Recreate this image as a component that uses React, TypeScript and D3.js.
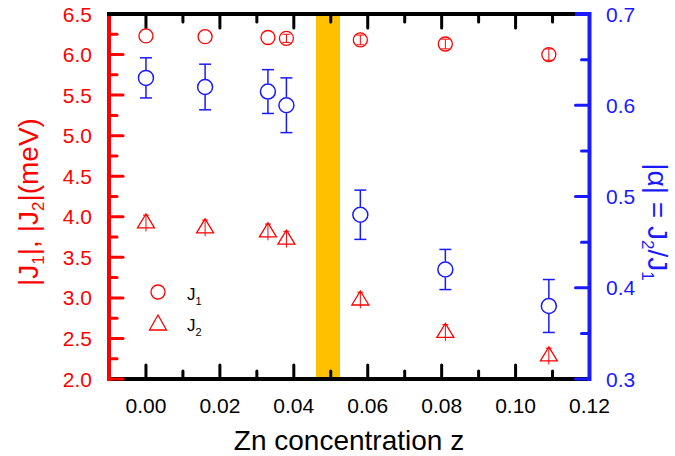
import * as d3 from "d3";

// Zn-doped samples: exchange constants J1, J2 (left axis) and ratio alpha (right axis)
const zValues = [0, 0.016, 0.033, 0.038, 0.058, 0.081, 0.109];
const j1Values = [6.23, 6.22, 6.21, 6.2, 6.18, 6.13, 6.0];
const j1Errors = [0, 0, 0, 0.05, 0.06, 0.06, 0.07];
const j2Values = [3.92, 3.86, 3.81, 3.72, 2.97, 2.57, 2.28];
const j2Errors = [0.1, 0.1, 0.1, 0.1, 0.1, 0.1, 0.1];
const alphaValues = [0.63, 0.62, 0.615, 0.6, 0.48, 0.42, 0.38];
const alphaErrors = [0.022, 0.025, 0.024, 0.03, 0.027, 0.022, 0.029];
const bandRange = [0.046, 0.0525];

const xMajor = [0, 0.02, 0.04, 0.06, 0.08, 0.1, 0.12];
const xMinor = [-0.01, 0.01, 0.03, 0.05, 0.07, 0.09, 0.11];
const leftMajor = [2.0, 2.5, 3.0, 3.5, 4.0, 4.5, 5.0, 5.5, 6.0, 6.5];
const leftMinor = [2.25, 2.75, 3.25, 3.75, 4.25, 4.75, 5.25, 5.75, 6.25];
const rightMajor = [0.3, 0.4, 0.5, 0.6, 0.7];
const rightMinor = [0.35, 0.45, 0.55, 0.65];

const RED = "#ff0000";
const BLUE = "#1a1aff";
const FONT = "'Liberation Sans', Arial, sans-serif";

const W = 675;
const H = 456;
const left = 109, right = 589.5, top = 14, bottom = 379;
const majorLen = 14, minorLen = 8;

const x = d3.scaleLinear().domain([-0.01, 0.12]).range([left, right]);
const yL = d3.scaleLinear().domain([2.0, 6.5]).range([bottom, top]);
const yR = d3.scaleLinear().domain([0.3, 0.7]).range([bottom, top]);

// triangle with its centroid at (cx, cy)
const tri = (cx: number, cy: number, w = 17, h = 14) => {
  const p = d3.path();
  p.moveTo(cx, cy - (2 * h) / 3);
  p.lineTo(cx + w / 2, cy + h / 3);
  p.lineTo(cx - w / 2, cy + h / 3);
  p.closePath();
  return p.toString();
};

export default function App() {
  const tickStyle = { strokeWidth: 3, strokeLinecap: "round" as const };
  return (
    <svg width={W} height={H} style={{ position: "absolute", left: 0, top: 0, background: "#fff" }} fontFamily={FONT}>
      {/* transition band */}
      <rect x={x(bandRange[0])} y={top} width={x(bandRange[1]) - x(bandRange[0])} height={bottom - top} fill="#ffc000" />

      {/* bottom axis */}
      <line x1={left - 2} x2={right} y1={bottom} y2={bottom} stroke="#000" strokeWidth={4} />
      {xMajor.map((t) => (
        <g key={"xb" + t}>
          <line x1={x(t)} x2={x(t)} y1={bottom} y2={bottom - majorLen} stroke="#000" {...tickStyle} />
          <line x1={x(t)} x2={x(t)} y1={top} y2={top + majorLen} stroke="#000" {...tickStyle} />
          <text x={x(t)} y={413} textAnchor="middle" fontSize={21} fill="#000">{t.toFixed(2)}</text>
        </g>
      ))}
      {xMinor.map((t) => (
        <g key={"xm" + t}>
          <line x1={x(t)} x2={x(t)} y1={bottom} y2={bottom - minorLen} stroke="#000" {...tickStyle} />
          <line x1={x(t)} x2={x(t)} y1={top} y2={top + minorLen} stroke="#000" {...tickStyle} />
        </g>
      ))}

      {/* right axis */}
      <line x1={right} x2={right} y1={top - 2} y2={bottom + 2} stroke={BLUE} strokeWidth={4} />
      {rightMajor.map((t) => (
        <g key={"rm" + t}>
          <line x1={right} x2={right - majorLen} y1={yR(t)} y2={yR(t)} stroke={BLUE} {...tickStyle} />
          <text x={606} y={yR(t)} dy="0.36em" fontSize={21} fill={BLUE}>{t.toFixed(1)}</text>
        </g>
      ))}
      {rightMinor.map((t) => (
        <line key={"rn" + t} x1={right} x2={right - minorLen} y1={yR(t)} y2={yR(t)} stroke={BLUE} {...tickStyle} />
      ))}

      {/* left axis */}
      <line x1={left} x2={left} y1={top} y2={bottom + 2} stroke={RED} strokeWidth={4} />
      {leftMajor.map((t) => (
        <g key={"lm" + t}>
          <line x1={left} x2={left + majorLen} y1={yL(t)} y2={yL(t)} stroke={RED} {...tickStyle} />
          <text x={92} y={yL(t)} dy="0.36em" textAnchor="end" fontSize={21} fill={RED}>{t.toFixed(1)}</text>
        </g>
      ))}
      {leftMinor.map((t) => (
        <line key={"ln" + t} x1={left} x2={left + minorLen} y1={yL(t)} y2={yL(t)} stroke={RED} {...tickStyle} />
      ))}

      {/* top axis line */}
      <line x1={left - 2} x2={right - majorLen} y1={top} y2={top} stroke="#000" strokeWidth={4} />
      <line x1={right - majorLen} x2={right} y1={top} y2={top} stroke={BLUE} strokeWidth={4} />

      {/* alpha with error bars */}
      {zValues.map((z, i) => {
        const cx = x(z);
        const y0 = yR(alphaValues[i] - alphaErrors[i]);
        const y1 = yR(alphaValues[i] + alphaErrors[i]);
        const cy = yR(alphaValues[i]);
        return (
          <g key={"a" + i} stroke={BLUE} strokeWidth={1.5} fill="none">
            <line x1={cx} x2={cx} y1={y1} y2={cy - 8} />
            <line x1={cx} x2={cx} y1={cy + 8} y2={y0} />
            <line x1={cx - 6} x2={cx + 6} y1={y1} y2={y1} />
            <line x1={cx - 6} x2={cx + 6} y1={y0} y2={y0} />
            <circle cx={cx} cy={cy} r={7.5} fill="#fff" />
          </g>
        );
      })}

      {/* J1 */}
      {zValues.map((z, i) => {
        const cx = x(z);
        const cy = yL(j1Values[i]);
        const e = j1Errors[i];
        return (
          <g key={"j1" + i} stroke={RED} strokeWidth={1.3} fill="none">
            <circle cx={cx} cy={cy} r={7} fill="#fff" />
            {e > 0 && (
              <>
                <line x1={cx} x2={cx} y1={yL(j1Values[i] + e)} y2={yL(j1Values[i] - e)} strokeWidth={1} />
                <line x1={cx - 4} x2={cx + 4} y1={yL(j1Values[i] + e)} y2={yL(j1Values[i] + e)} strokeWidth={1} />
                <line x1={cx - 4} x2={cx + 4} y1={yL(j1Values[i] - e)} y2={yL(j1Values[i] - e)} strokeWidth={1} />
              </>
            )}
          </g>
        );
      })}

      {/* J2 */}
      {zValues.map((z, i) => {
        const cx = x(z);
        const cy = yL(j2Values[i]);
        const yt = yL(j2Values[i] + j2Errors[i]);
        const yb = yL(j2Values[i] - j2Errors[i]);
        return (
          <g key={"j2" + i} stroke={RED} strokeWidth={1.3} fill="none">
            <path d={tri(cx, cy)} fill="#fff" />
            <line x1={cx} x2={cx} y1={yt} y2={yb} strokeWidth={1} />
            <line x1={cx - 3} x2={cx + 3} y1={yt} y2={yt} strokeWidth={1} />
          </g>
        );
      })}

      {/* legend */}
      <circle cx={158} cy={292} r={7} fill="none" stroke={RED} strokeWidth={1.3} />
      <text x={187} y={300} fontSize={17} fill="#000">
        J<tspan dy={5} fontSize={11}>1</tspan>
      </text>
      <path d={tri(158, 325, 17, 15)} fill="none" stroke={RED} strokeWidth={1.3} />
      <text x={187} y={331} fontSize={17} fill="#000">
        J<tspan dy={5} fontSize={11}>2</tspan>
      </text>

      {/* axis titles */}
      <text x={349} y={450} textAnchor="middle" fontSize={28} fill="#000">Zn concentration z</text>
      <text transform="translate(38,202) rotate(-90)" textAnchor="middle" fontSize={28} fill={RED}>
        |J<tspan dy={6} fontSize={17}>1</tspan>
        <tspan dy={-6}>|, |J</tspan>
        <tspan dy={6} fontSize={17}>2</tspan>
        <tspan dy={-6}>|(meV)</tspan>
      </text>
      <text transform="translate(648,222) rotate(90)" textAnchor="middle" fontSize={28} fill={BLUE}>
        |α| = J<tspan dy={6} fontSize={17}>2</tspan>
        <tspan dy={-6}>/J</tspan>
        <tspan dy={6} fontSize={17}>1</tspan>
      </text>
    </svg>
  );
}
